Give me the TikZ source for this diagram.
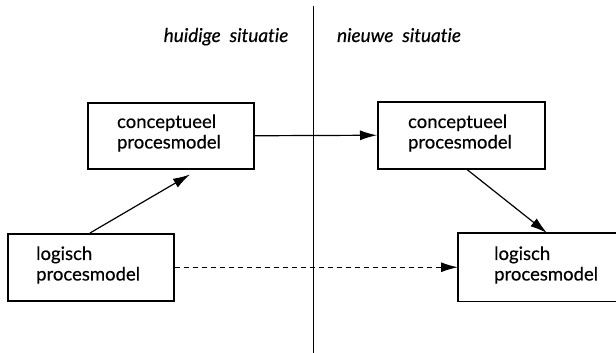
\documentclass[tikz,border=0pt]{standalone}
\usepackage{fontspec}
\setmainfont{Lato}[Ligatures=NoCommon,FakeBold=0.4]
\usetikzlibrary{arrows.meta,calc}
\begin{document}
\begin{tikzpicture}[x=1pt,y=-1pt,
  modelbox/.style={draw,line width=1.5pt,inner sep=0pt,anchor=north west},
  boxtext/.style={align=left,inner sep=0pt,font=\fontsize{18.5}{20.5}\selectfont},
  header/.style={inner sep=0pt,font=\fontsize{19}{21}\selectfont\itshape},
  flow/.style={line width=1.2pt,-{Latex[length=17pt,width=10pt]}}]
\useasboundingbox (0,0) rectangle (616,353);

% divider between the two situations
\coordinate (divtop) at (313.5,6);
\coordinate (divbot) at (313.5,353);
\draw[line width=1.2pt] (divtop) -- (divbot);

% column headers
\node[header,anchor=base] (hcur) at (226,42) {huidige\ \ situatie};
\node[header,anchor=base] (hnew) at (399,42) {nieuwe\ \ situatie};

% boxes
\node[modelbox,minimum width=166pt,minimum height=66pt] (cpl) at (87,102) {};
\node[modelbox,minimum width=167pt,minimum height=67pt] (cpr) at (377,101) {};
\node[modelbox,minimum width=166pt,minimum height=67pt] (lgl) at (7,233) {};
% the lower right box is open towards the edge
\node[modelbox,draw=none,minimum width=158pt,minimum height=67pt] (lgr) at (458,233) {};
\draw[line width=1.5pt,line cap=rect] (lgr.north east) -- (lgr.north west) -- (lgr.south west) -- (lgr.south east);

% box labels
\node[boxtext] (tcpl) at (169,133) {conceptueel\\procesmodel};
\node[boxtext] (tcpr) at (460,133) {conceptueel\\procesmodel};
\node[boxtext,anchor=west] (tlgl) at (36,265) {logisch\\procesmodel};
\node[boxtext,anchor=west] (tlgr) at (494,265) {logisch\\procesmodel};

% connectors
\coordinate (a1s) at ([xshift=83pt]lgl.north west);
\coordinate (a1e) at ([xshift=103pt,yshift=-5pt]cpl.south west);
\draw[flow] (a1s) -- (a1e);

\draw[flow] (cpl.east) -- (cpr.west);

\coordinate (a3s) at ([xshift=90pt]cpr.south west);
\coordinate (a3e) at ([xshift=89pt]lgr.north west);
\draw[flow] (a3s) -- (a3e);

\draw[flow,dash pattern=on 5pt off 4pt] (lgl.east) -- (lgr.west);
\end{tikzpicture}
\end{document}
